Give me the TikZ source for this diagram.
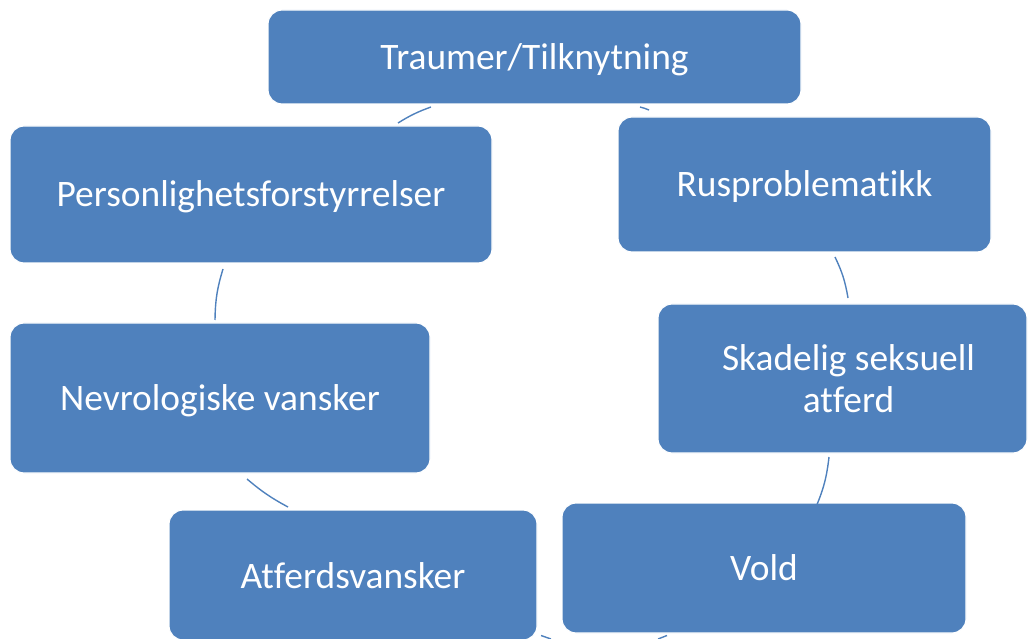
\documentclass[tikz,border=0pt]{standalone}
\usepackage{fontspec}
\setmainfont{Carlito}[Ligatures={NoCommon}]
\definecolor{boxblue}{HTML}{4F81BD}
\newcommand{\lowtxt}[2][-3pt]{\raisebox{#1}[\height][\depth]{#2}}
\begin{document}
\begin{tikzpicture}[x=1pt,y=1pt,
  box/.style={rectangle, rounded corners=14pt, fill=boxblue, draw=white, line width=1.2pt,
    text=white, align=center, inner sep=0pt,
    font=\fontsize{37.4}{42}\selectfont},
  conn/.style={draw=boxblue, line width=1.4pt}]
\useasboundingbox (0,0) rectangle (1028,638);
\clip (0,0) rectangle (1028,638);
% nodes
\node[box, minimum width=533pt, minimum height=94pt] (trauma) at (534.5,581) {\lowtxt{Traumer/Tilknytning}};
\node[box, minimum width=482pt, minimum height=137pt] (person) at (251,443.5) {\lowtxt[-2pt]{Personlighetsforstyrrelser}};
\node[box, minimum width=373pt, minimum height=135pt] (rus) at (804.5,453.5) {\lowtxt[-2pt]{Rusproblematikk}};
\node[box, minimum width=420pt, minimum height=150pt] (nevro) at (220,240) {\lowtxt{Nevrologiske vansker}};
\node[box, minimum width=369pt, minimum height=149pt] (skad) at (842.5,259.5) {\hspace*{12pt}Skadelig seksuell\\\hspace*{12pt}atferd};
\node[box, minimum width=368pt, minimum height=130pt] (atferd) at (353,63) {\lowtxt[-1pt]{Atferdsvansker}};
\node[box, minimum width=404pt, minimum height=130pt] (vold) at (764,70) {Vold};
% connector end points
\coordinate (t1) at (431,531);
\coordinate (p1) at (398,515);
\coordinate (t2) at (640,531);
\coordinate (r1) at (649,528);
\coordinate (p2) at (223,369);
\coordinate (n1) at (215,318);
\coordinate (n2) at (247,159);
\coordinate (a1) at (288,131);
\coordinate (r2) at (835,381);
\coordinate (s1) at (848,340);
\coordinate (s2) at (829,181);
\coordinate (v1) at (816,131);
\coordinate (a2) at (541,2.5);
\coordinate (b1) at (551,-1);
\coordinate (b2) at (658,-1);
\coordinate (v2) at (667,2.5);
% connectors
\draw[conn] (t1) to[bend right=6] (p1);
\draw[conn] (t2) to[bend left=4] (r1);
\draw[conn] (p2) to[bend right=8] (n1);
\draw[conn] (n2) to[bend right=6] (a1);
\draw[conn] (r2) to[bend left=8] (s1);
\draw[conn] (s2) to[bend left=8] (v1);
\draw[conn] (a2) to (b1);
\draw[conn] (b2) to (v2);
\end{tikzpicture}
\end{document}
